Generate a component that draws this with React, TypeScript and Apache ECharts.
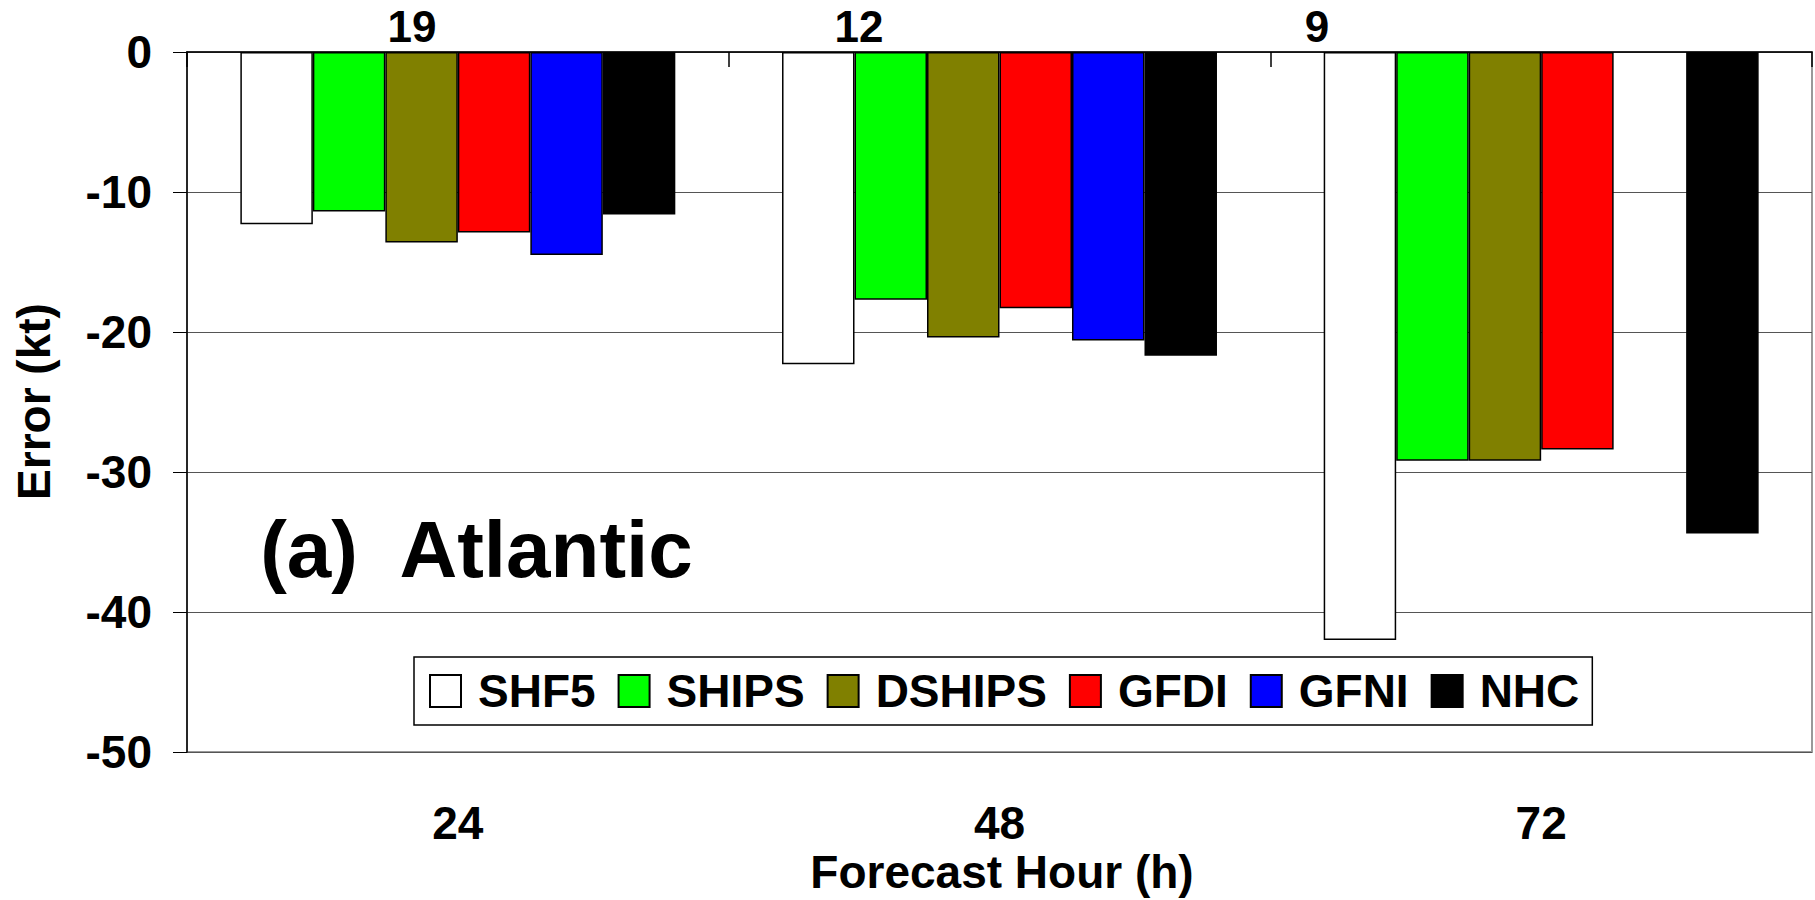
import React, { useEffect, useRef } from "react";
import * as echarts from "echarts";

// ---- data ----
const hours = ["24", "48", "72"];
const sampleCounts = [19, 12, 9];
const modelNames = ["SHF5", "SHIPS", "DSHIPS", "GFDI", "GFNI", "NHC"];
const shf5 = [-12.3, -22.3, -42.0];
const ships = [-11.4, -17.7, -29.2];
const dships = [-13.6, -20.4, -29.2];
const gfdi = [-12.9, -18.3, -28.4];
const gfni = [-14.5, -20.6, null];
const nhc = [-11.6, -21.7, -34.4];
const yMin = -50;
const yMax = 0;
const yStep = 10;

// ---- styles ----
const FONT = "'Liberation Sans', Arial, sans-serif";
const modelColors = ["#FFFFFF", "#00FF00", "#808000", "#FF0000", "#0000FF", "#000000"];
const countPosX = [412, 859, 1317];

export default function App() {
  const ref = useRef<HTMLDivElement>(null);

  useEffect(() => {
    if (!ref.current) return;
    const chart = echarts.init(ref.current, null, { renderer: "svg" });
    const values = [shf5, ships, dships, gfdi, gfni, nhc];

    const txt = (text: string, x: number, y: number, size: number, rotation = 0) => ({
      type: "text",
      x,
      y,
      rotation,
      style: {
        text,
        fontSize: size,
        fontWeight: "bold",
        fontFamily: FONT,
        fill: "#000",
        align: "center",
        verticalAlign: "middle",
        textAlign: "center",
        textVerticalAlign: "middle",
      },
    });

    chart.setOption({
      animation: false,
      backgroundColor: "#fff",
      grid: {
        left: 187,
        right: 3,
        top: 52,
        bottom: 148,
        containLabel: false,
        show: true,
        borderColor: "#999",
        borderWidth: 2,
        backgroundColor: "#fff",
      },
      legend: {
        data: modelNames,
        left: 414,
        top: 657,
        orient: "horizontal",
        icon: "rect",
        itemWidth: 31,
        itemHeight: 32,
        itemGap: 22,
        padding: [11, 13, 11, 15],
        borderColor: "#000",
        borderWidth: 1.5,
        backgroundColor: "#fff",
        selectedMode: false,
        textStyle: {
          fontSize: 46,
          fontWeight: "bold",
          fontFamily: FONT,
          color: "#000",
          lineHeight: 46,
          padding: [0, 0, 0, 12],
        },
      },
      xAxis: [
        {
          type: "category",
          data: hours,
          position: "top",
          axisLine: { onZero: false, lineStyle: { color: "#000", width: 1.5 } },
          axisTick: { show: true, inside: true, length: 15, lineStyle: { color: "#000", width: 1.5 } },
          axisLabel: { show: false },
          splitLine: { show: false },
        },
        {
          type: "category",
          data: hours,
          position: "bottom",
          axisLine: { show: false, onZero: false },
          axisTick: { show: false },
          axisLabel: {
            fontSize: 46,
            fontWeight: "bold",
            fontFamily: FONT,
            color: "#000",
            margin: 48,
          },
          splitLine: { show: false },
        },
      ],
      yAxis: {
        type: "value",
        min: yMin,
        max: yMax,
        interval: yStep,
        axisLine: { show: true, lineStyle: { color: "#000", width: 1.5 } },
        axisTick: { show: true, inside: false, length: 14, lineStyle: { color: "#000", width: 1 } },
        axisLabel: {
          fontSize: 46,
          fontWeight: "bold",
          fontFamily: FONT,
          color: "#000",
          margin: 35,
        },
        splitLine: { show: true, lineStyle: { color: "#555", width: 1 } },
      },
      series: modelNames.map((name, i) => ({
        name,
        type: "bar",
        xAxisIndex: 0,
        data: values[i],
        barGap: "0%",
        barCategoryGap: "19.7%",
        itemStyle: { color: modelColors[i], borderColor: "#000", borderWidth: 1.5 },
      })),
      graphic: [
        txt("Error (kt)", 33.5, 401.5, 46, Math.PI / 2),
        txt("Forecast Hour (h)", 1002, 871.5, 46),
        txt("(a)  Atlantic", 476.5, 549, 80),
        ...sampleCounts.map((c, i) => txt(String(c), countPosX[i], 26, 44)),
      ],
    });

    return () => chart.dispose();
  }, []);

  return (
    <div
      ref={ref}
      style={{ position: "fixed", left: 0, top: 0, width: "1815px", height: "900px" }}
    />
  );
}
